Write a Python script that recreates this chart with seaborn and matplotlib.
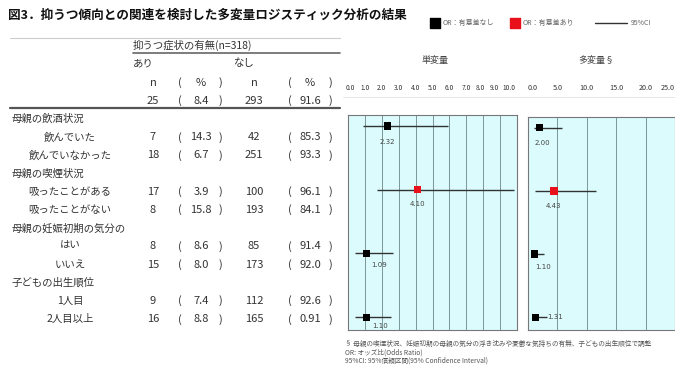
import numpy as np
import pandas as pd
import seaborn as sns
import matplotlib.pyplot as plt
from matplotlib.transforms import ScaledTranslation

sns.set_theme(style="white")
plt.rcParams['font.family'] = ['Noto Sans CJK JP', 'DejaVu Sans']

# table data
groups = ['母親の飲酒状況', '母親の喫煙状況', '母親の妊娠初期の気分の', '子どもの出生順位']
levels = [['飲んでいた', '飲んでいなかった'],
          ['吸ったことがある', '吸ったことがない'],
          ['はい', 'いいえ'],
          ['1人目', '2人目以上']]
n_yes = [7, 18, 17, 8, 8, 15, 9, 16]
pct_yes = ['14.3', '6.7', '3.9', '15.8', '8.6', '8.0', '7.4', '8.8']
n_no = [42, 251, 100, 193, 85, 173, 112, 165]
pct_no = ['85.3', '93.3', '96.1', '84.1', '91.4', '92.0', '92.6', '0.91']
total_yes, total_pct_yes, total_no, total_pct_no = 25, '8.4', 293, '91.6'

# odds ratios
factors = ['飲酒', '喫煙', '気分', '出生順位']
significant = [False, True, False, False]
uni_or = [2.32, 4.10, 1.09, 1.10]
uni_lo = [0.9, 1.7, 0.4, 0.4]
uni_hi = [5.9, 9.8, 2.65, 2.55]
multi_or = [2.00, 4.43, 1.10, 1.31]
multi_lo = [0.95, 1.2, 0.5, 0.6]
multi_hi = [5.7, 11.6, 2.7, 3.3]

W, H = 675, 365
fig = plt.figure(figsize=(6.75, 3.65), dpi=100)
bg = fig.add_axes([0, 0, 1, 1])
bg.set_xlim(0, W)
bg.set_ylim(H, 0)
bg.axis('off')


def px_rect(x0, y0, x1, y1):
    return [x0 / W, 1 - y1 / H, (x1 - x0) / W, (y1 - y0) / H]


def forest(ax, or_, lo, hi, xmax, step, offsets, pad, tsize):
    df = pd.DataFrame({'factor': factors, 'row': np.arange(len(factors)),
                       'or': or_, 'lo': lo, 'hi': hi, 'sig': significant})
    ax.set_facecolor('#dcfbfd')
    ax.hlines(df['row'], df['lo'], df['hi'], color='#333333', lw=1.0, zorder=2)
    sns.scatterplot(data=df, x='or', y='row', hue='sig',
                    palette={False: 'black', True: '#e8101a'},
                    marker='s', s=28, edgecolor='none', legend=False,
                    ax=ax, zorder=3)
    for r, v, (dx, dy) in zip(df['row'], df['or'], offsets):
        ax.annotate(f'{v:.2f}', (v, r), xytext=(dx * 0.72, -dy * 0.72),
                    textcoords='offset points', ha='center', va='center',
                    fontsize=5, color='#444444', family='DejaVu Sans')
    ax.set_xlim(0, xmax)
    ax.set_ylim(3.2, -0.17)
    ticks = np.arange(0, xmax + 0.01, step)
    ax.set_xticks(ticks)
    ax.set_xticklabels([f'{t:.1f}' for t in ticks])
    ax.xaxis.tick_top()
    ax.tick_params(axis='x', length=0, pad=pad, labelsize=tsize, colors='#333333')
    ax.set_yticks([])
    ax.set_xlabel('')
    ax.set_ylabel('')
    ax.grid(axis='x', color='#7a9696', lw=0.7)
    for s in ax.spines.values():
        s.set_color('#777777')
        s.set_linewidth(0.8)


def nudge(label, px):
    label.set_transform(label.get_transform()
                        + ScaledTranslation(px / 100, 0, fig.dpi_scale_trans))


ax1 = fig.add_axes(px_rect(348, 115, 517, 330))
forest(ax1, uni_or, uni_lo, uni_hi, 10, 1,
       [(0, 16), (0, 14), (13, 12), (14, 9)], 16.5, 4.8)
labels1 = ax1.get_xticklabels()
labels1[-1].set_horizontalalignment('right')
nudge(labels1[-1], -2)
nudge(labels1[-2], -5.5)
nudge(labels1[-3], -2.5)
nudge(labels1[0], 2)
ax2 = fig.add_axes(px_rect(528, 117, 675, 330))
forest(ax2, multi_or, multi_lo, multi_hi, 25, 5,
       [(3, 15), (-1, 15), (9, 13), (19, 0)], 18, 5.2)
ax2.get_xticklabels()[0].set_horizontalalignment('left')
ax2.get_xticklabels()[-1].set_horizontalalignment('right')

# title and legend
bg.text(8, 15, '図3．抑うつ傾向との関連を検討した多変量ロジスティック分析の結果',
        fontsize=9.1, fontweight='bold', va='center', color='#111111')
bg.scatter([435], [23], marker='s', s=42, color='black')
bg.text(443, 23, 'OR：有意差なし', fontsize=5, va='center', color='#666666')
bg.scatter([515], [23], marker='s', s=42, color='#e8101a')
bg.text(523, 23, 'OR：有意差あり', fontsize=5, va='center', color='#666666')
bg.plot([595, 627], [23, 23], color='#333333', lw=1)
bg.text(631, 23, '95%CI', fontsize=5, va='center', color='#666666')

bg.text(435, 60, '単変量', fontsize=6.5, ha='center', va='center', color='#444444')
bg.text(596, 60, '多変量§', fontsize=6.5, ha='center', va='center', color='#444444')
bg.plot([343, 675], [97, 97], color='#e3e3e3', lw=0.6)

# table
tc = '#333333'
bg.plot([10, 340], [38, 38], color='#cccccc', lw=0.8)
bg.text(133, 45, '抑うつ症状の有無(n=318)', fontsize=7.5, va='center', color=tc)
bg.plot([133, 340], [53, 53], color='#666666', lw=1.2)
bg.text(133, 63, 'あり', fontsize=7.5, va='center', color=tc)
bg.text(233, 63, 'なし', fontsize=7.5, va='center', color=tc)
cols = [153, 180, 201, 220, 254, 290, 310, 330]


def table_row(y, cells, size=8):
    for x, c in zip(cols, cells):
        bg.text(x, y, c, fontsize=size, ha='center', va='center', color=tc)


table_row(83, ['n', '(', '%', ')', 'n', '(', '%', ')'])
table_row(101, [str(total_yes), '(', total_pct_yes, ')',
                str(total_no), '(', total_pct_no, ')'])
bg.plot([10, 340], [108, 108], color='#555555', lw=1.6)

y = 119
k = 0
for g, levs in zip(groups, levels):
    bg.text(12, y, g, fontsize=7.5, va='center', color=tc)
    y += 18.2
    for lev in levs:
        bg.text(70, y, lev, fontsize=7.5, ha='center', va='center', color=tc)
        table_row(y, [str(n_yes[k]), '(', pct_yes[k], ')',
                      str(n_no[k]), '(', pct_no[k], ')'])
        y += 18.2
        k += 1

# footnotes
notes = ['§ 母親の喫煙状況、妊娠初期の母親の気分の浮き沈みや憂鬱な気持ちの有無、子どもの出生順位で調整',
         'OR: オッズ比(Odds Ratio)',
         '95%CI: 95%信頼区間(95% Confidence Interval)']
for i, t in enumerate(notes):
    bg.text(345, 344 + i * 8.5, t, fontsize=4.8, va='center', color='#555555')

fig.savefig('out.png', dpi=100)
